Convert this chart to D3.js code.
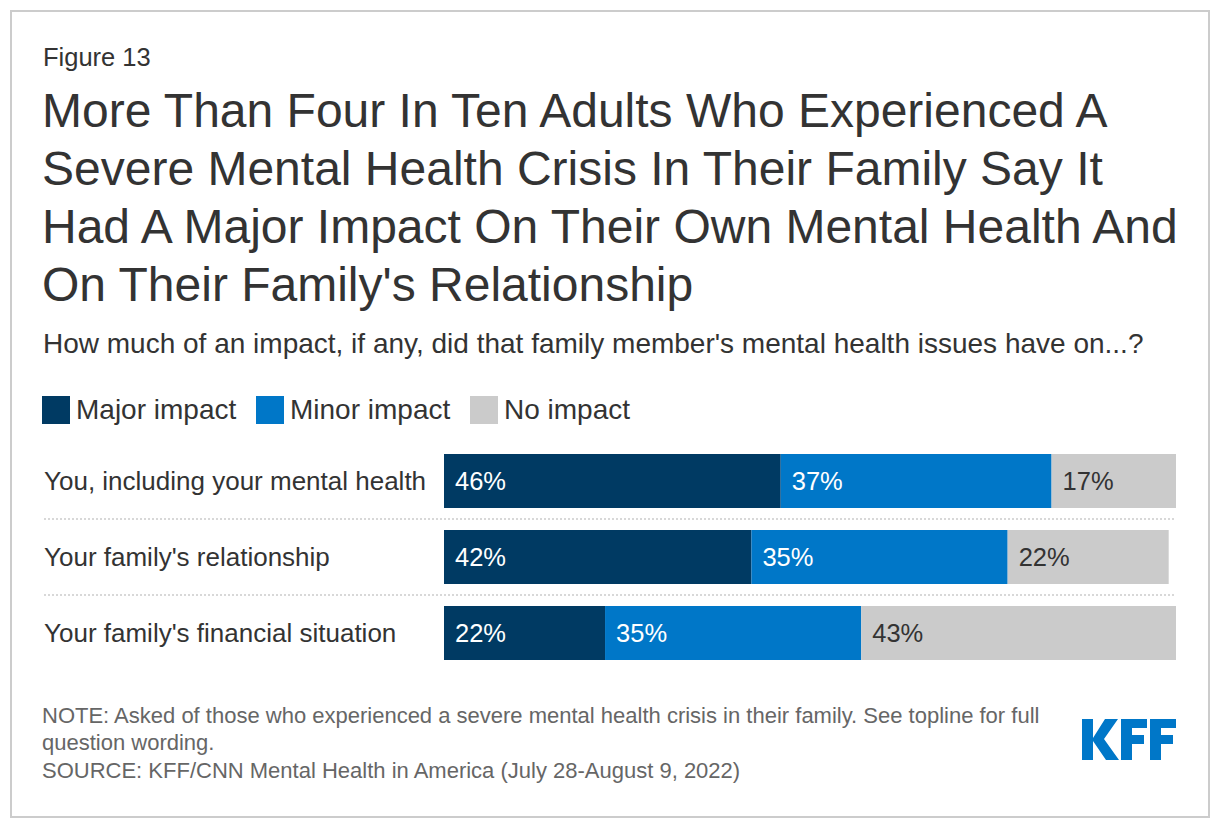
<!DOCTYPE html>
<html>
<head>
<meta charset="utf-8">
<style>
  body { margin: 0; background: #fff; }
  svg text { font-family: "Liberation Sans", Arial, sans-serif; }
</style>
</head>
<body>
<svg id="chart" width="1220" height="830"></svg>

<script src="https://d3js.org/d3.v7.min.js"></script>
<script>
    // data
    const categories = [
        "You, including your mental health",
        "Your family's relationship",
        "Your family's financial situation"
    ];
    const seriesNames = ["Major impact", "Minor impact", "No impact"];
    const majorImpact = [46, 42, 22];
    const minorImpact = [37, 35, 35];
    const noImpact = [17, 22, 43];

    const titleLines = [
        "More Than Four In Ten Adults Who Experienced A",
        "Severe Mental Health Crisis In Their Family Say It",
        "Had A Major Impact On Their Own Mental Health And",
        "On Their Family's Relationship"
    ];
    const noteLines = [
        "NOTE: Asked of those who experienced a severe mental health crisis in their family. See topline for full",
        "question wording.",
        "SOURCE: KFF/CNN Mental Health in America (July 28-August 9, 2022)"
    ];

    const colors = ["#003a63", "#0077c8", "#cbcbcb"];
    const labelColors = ["#fff", "#fff", "#333"];

    const svg = d3.select("#chart");

    // outer frame
    svg.append("rect")
       .attr("x", 11).attr("y", 11)
       .attr("width", 1198).attr("height", 806)
       .attr("fill", "none")
       .attr("stroke", "#cccccc")
       .attr("stroke-width", 2);

    svg.append("text")
       .attr("x", 43).attr("y", 66)
       .attr("font-size", 25.5).attr("fill", "#333")
       .text("Figure 13");

    svg.append("g").selectAll("text")
       .data(titleLines)
       .enter().append("text")
       .attr("x", 42)
       .attr("y", (d, i) => 127 + i * 58)
       .attr("font-size", 48)
       .attr("fill", "#333")
       .text(d => d);

    svg.append("text")
       .attr("x", 43).attr("y", 353)
       .attr("font-size", 28)
       .attr("fill", "#333")
       .text("How much of an impact, if any, did that family member's mental health issues have on...?");

    // legend
    const legendX = [42, 256, 470];
    const legend = svg.append("g").selectAll("g")
       .data(seriesNames)
       .enter().append("g")
       .attr("transform", (d, i) => `translate(${legendX[i]},396)`);
    legend.append("rect")
       .attr("width", 28).attr("height", 28)
       .attr("fill", (d, i) => colors[i]);
    legend.append("text")
       .attr("x", 34).attr("y", 23)
       .attr("font-size", 28).attr("fill", "#333")
       .text(d => d);

    // scales
    const x = d3.scaleLinear().domain([0, 100]).range([444, 1176]);
    const y = d3.scaleBand()
                .domain(categories)
                .range([443, 671])
                .paddingInner(22 / 76)
                .paddingOuter(11 / 76);

    const rows = categories.map((c, i) => {
        const vals = [majorImpact[i], minorImpact[i], noImpact[i]];
        let acc = 0;
        return vals.map((v, k) => {
            const seg = { cat: c, k: k, v: v, x0: acc, x1: acc + v };
            acc += v;
            return seg;
        });
    }).flat();

    // dotted separators between rows
    const gap = y.step() - y.bandwidth();
    svg.append("g").selectAll("line")
       .data(categories.slice(0, -1))
       .enter().append("line")
       .attr("x1", 44).attr("x2", 1176)
       .attr("y1", d => y(d) + y.bandwidth() + gap / 2)
       .attr("y2", d => y(d) + y.bandwidth() + gap / 2)
       .attr("stroke", "#cccccc")
       .attr("stroke-width", 1.5)
       .attr("stroke-dasharray", "2,2");

    // category labels
    svg.append("g").selectAll("text")
       .data(categories)
       .enter().append("text")
       .attr("x", 44)
       .attr("y", d => y(d) + y.bandwidth() / 2)
       .attr("dy", "0.36em")
       .attr("font-size", 26)
       .attr("fill", "#333")
       .text(d => d);

    // stacked bars
    svg.append("g").selectAll("rect")
       .data(rows)
       .enter().append("rect")
       .attr("x", d => x(d.x0))
       .attr("y", d => y(d.cat))
       .attr("width", d => x(d.x1) - x(d.x0))
       .attr("height", y.bandwidth())
       .attr("fill", d => colors[d.k]);

    svg.append("g").selectAll("text")
       .data(rows)
       .enter().append("text")
       .attr("x", d => x(d.x0) + 11)
       .attr("y", d => y(d.cat) + y.bandwidth() / 2)
       .attr("dy", "0.36em")
       .attr("font-size", 25.5)
       .attr("fill", d => labelColors[d.k])
       .text(d => d.v + "%");

    // notes
    svg.append("g").selectAll("text")
       .data(noteLines)
       .enter().append("text")
       .attr("x", 42)
       .attr("y", (d, i) => 722.5 + i * 27.5)
       .attr("font-size", 22)
       .attr("fill", "#666")
       .text(d => d);

    // KFF logo, drawn as blocks
    const logo = svg.append("g").attr("transform", "translate(1082,719)").attr("fill", "#0077c8");
    // K
    logo.append("rect").attr("x", 0).attr("y", 0).attr("width", 11).attr("height", 41);
    logo.append("path").attr("d", "M11,19 L23,0 L36,0 L22,20 L37,41 L24,41 L11,22 Z");
    // F
    logo.append("rect").attr("x", 39).attr("y", 0).attr("width", 11).attr("height", 41);
    logo.append("rect").attr("x", 39).attr("y", 0).attr("width", 26).attr("height", 9);
    logo.append("rect").attr("x", 39).attr("y", 16).attr("width", 23).attr("height", 9);
    // F
    logo.append("rect").attr("x", 68).attr("y", 0).attr("width", 11).attr("height", 41);
    logo.append("rect").attr("x", 68).attr("y", 0).attr("width", 26).attr("height", 9);
    logo.append("rect").attr("x", 68).attr("y", 16).attr("width", 23).attr("height", 9);
</script>
</body>
</html>
